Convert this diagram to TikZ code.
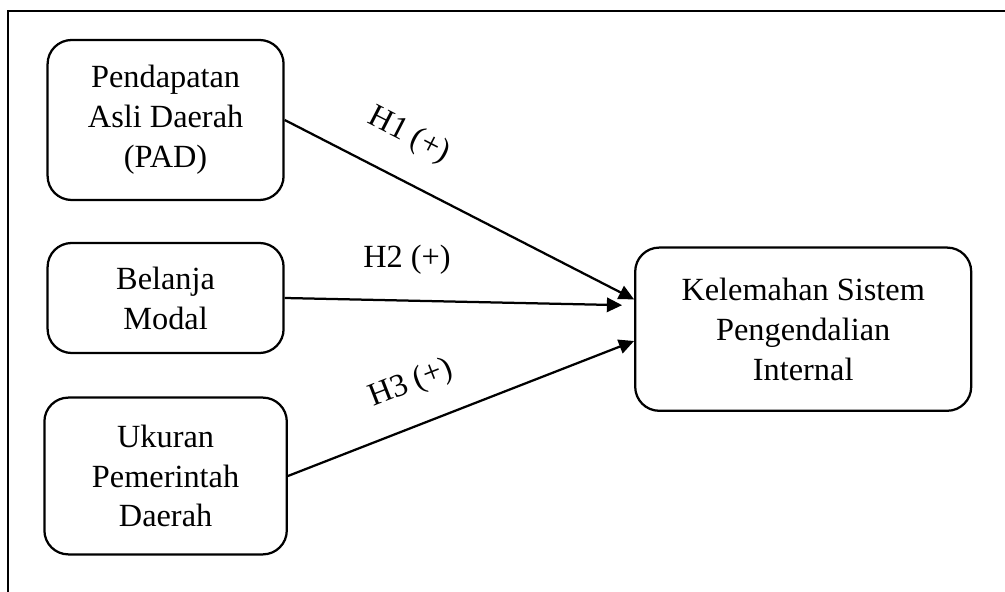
\documentclass[tikz,border=0pt]{standalone}
\usepackage{fontspec}
\setmainfont{Liberation Serif}
\usepackage{tikz}
\usetikzlibrary{arrows.meta,positioning}

\begin{document}
\begin{tikzpicture}[->, >={Triangle[length=0.19cm,width=0.18cm]}, thick, node distance=2.225cm]
\tikzstyle{box}=[draw=black,thick,rounded corners=0.3cm,align=center,text=black,font=\fontsize{11.5}{14.2}\selectfont,minimum width=2.95cm]
\tikzstyle{hyp}=[font=\fontsize{11.5}{14.2}\selectfont,inner sep=1pt]
\useasboundingbox (0,0) rectangle (12.5625,-7.4);
\draw[-] (12.5625,-0.1375) -- (0.1,-0.1375) -- (0.1,-7.4);
\node[box,minimum height=2cm]       (PAD) at (2.07,-1.5)         {Pendapatan\\Asli Daerah\\(PAD)};
\node[box,minimum height=1.375cm]   (BM)[below of=PAD]           {Belanja\\Modal};
\node[box,minimum height=1.96cm,minimum width=3.03cm] (UPD)[below of=BM] {Ukuran\\Pemerintah\\Daerah};
\node[box,minimum height=2.04cm,minimum width=4.2cm]  (KSPI)[right of=BM,node distance=7.97cm,yshift=-0.39cm] {Kelemahan Sistem\\Pengendalian\\Internal};
\path
(PAD.east) edge                  node[hyp,pos=0.3,sloped,above=0.3cm]{H1 (+)}   (KSPI.170)
(BM.east)  edge[shorten >=0.15cm] node[hyp,pos=0.35,above=0.28cm]{H2 (+)}        (KSPI.172)
(UPD.east) edge                  node[hyp,pos=0.4,sloped,above=0.28cm]{H3 (+)}  (KSPI.184);
\end{tikzpicture}
\end{document}
